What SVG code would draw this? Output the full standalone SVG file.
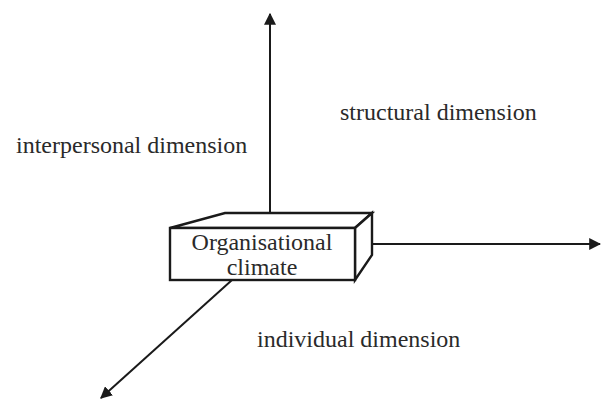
<svg xmlns="http://www.w3.org/2000/svg" width="601" height="399" viewBox="0 0 601 399">
<style>
text{font-family:"Liberation Serif","Times New Roman",serif;font-size:24px;fill:#2a2a2a}
.ax{stroke:#1a1a1a;stroke-width:2;fill:none}
.box{stroke:#1a1a1a;stroke-width:2.4;fill:#fff;stroke-linejoin:miter}
</style>
<defs>
<marker id="ah" viewBox="0 0 10 10" refX="9" refY="5" markerWidth="12" markerHeight="12" markerUnits="userSpaceOnUse" orient="auto">
<path d="M0,0 L10,5 L0,10 z" fill="#1a1a1a"/>
</marker>
</defs>
<g id="connectors">
<line class="ax" x1="270" y1="213" x2="270" y2="14" marker-end="url(#ah)"/>
<line class="ax" x1="372" y1="244" x2="600" y2="244" marker-end="url(#ah)"/>
<line class="ax" x1="232" y1="280" x2="101" y2="398" marker-end="url(#ah)"/>
</g>
<g id="box">
<path class="box" d="M170,228 L225,213 L372,213 L355,228 Z"/>
<path class="box" d="M355,228 L372,213 L372,255 L355,280 Z"/>
<rect class="box" x="170" y="228" width="185" height="52"/>
<text x="262" y="250" text-anchor="middle">Organisational</text>
<text x="262" y="275" text-anchor="middle">climate</text>
</g>
<g id="labels">
<text x="16" y="153">interpersonal dimension</text>
<text x="340" y="120">structural dimension</text>
<text x="257" y="347">individual dimension</text>
</g>
</svg>
